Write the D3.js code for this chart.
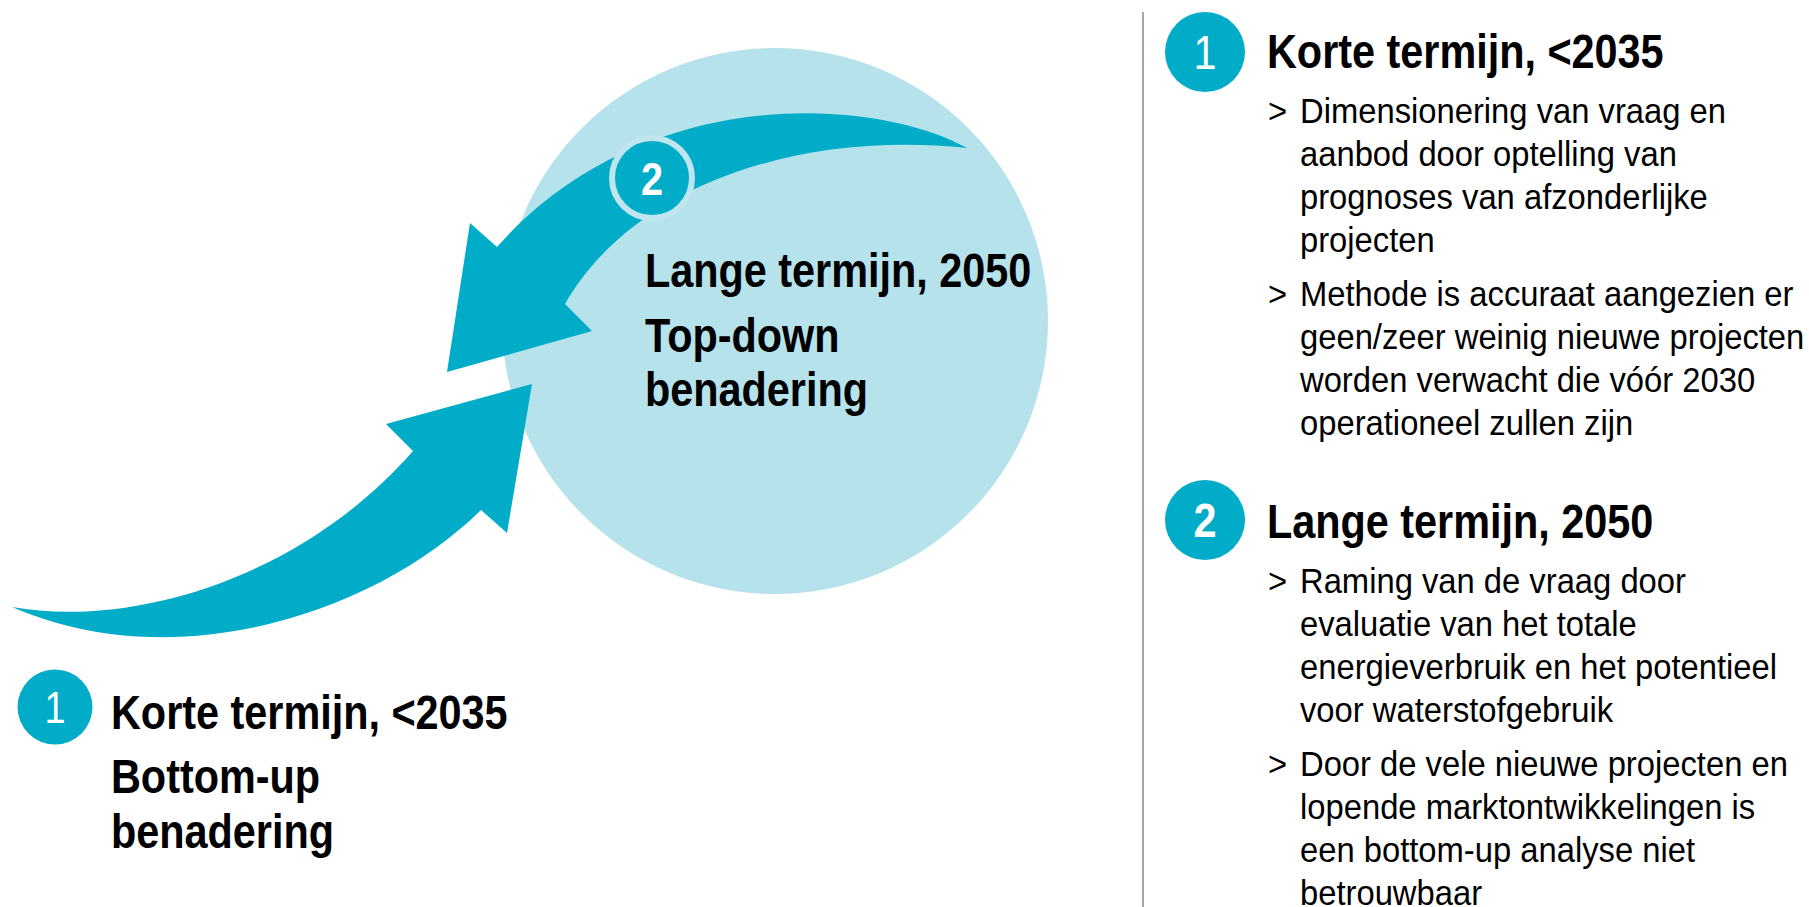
<!DOCTYPE html>
<html>
<head>
<meta charset="utf-8">
<script src="https://cdn.jsdelivr.net/npm/d3@7"></script>
<style>
  body { margin: 0; background: #fff; }
  text { font-family: "Liberation Sans", Arial, sans-serif; }
</style>
</head>
<body>
<svg width="1809" height="907"></svg>
<script>
// teksten van de figuur
var headings = ["Korte termijn, <2035", "Lange termijn, 2050"];
var badgeNums = ["1", "2"];
var bulletsShort = [
    ["Dimensionering van vraag en", "aanbod door optelling van", "prognoses van afzonderlijke", "projecten"],
    ["Methode is accuraat aangezien er", "geen/zeer weinig nieuwe projecten", "worden verwacht die vóór 2030", "operationeel zullen zijn"]
];
var bulletsLong = [
    ["Raming van de vraag door", "evaluatie van het totale", "energieverbruik en het potentieel", "voor waterstofgebruik"],
    ["Door de vele nieuwe projecten en", "lopende marktontwikkelingen is", "een bottom-up analyse niet", "betrouwbaar"]
];
var centerLabel = ["Lange termijn, 2050", "Top-down", "benadering"];
var leftLabel = ["Korte termijn, <2035", "Bottom-up", "benadering"];

var teal = "#00acc8",
    light = "#b6e2eb",
    boldX = 0.862,   // smalle letter nabootsen (geen Arial Narrow beschikbaar)
    bodyX = 0.91;

var svg = d3.select("svg");

// tekst met horizontale versmalling
function narrow(sel, x, y, sx) {
    return sel.append("text")
        .attr("transform", "translate(" + x + "," + y + ") scale(" + sx + ",1)");
}

// grote lichte cirkel
svg.append("circle")
    .attr("cx", 775).attr("cy", 321).attr("r", 273)
    .attr("fill", light);

// bovenste pijl (lange termijn) naar links-onder
var p = d3.path();
p.moveTo(967, 148);
p.bezierCurveTo(870, 95, 640, 85, 497, 247);
p.lineTo(470, 223);
p.lineTo(447, 372);
p.lineTo(592, 331);
p.lineTo(565, 304);
p.bezierCurveTo(630, 190, 790, 130, 967, 148);
p.closePath();
svg.append("path").attr("d", p.toString()).attr("fill", teal);

// onderste pijl (korte termijn) naar rechts-boven
var q = d3.path();
q.moveTo(12, 607);
q.bezierCurveTo(130, 628, 300, 580, 413, 451);
q.lineTo(386, 424);
q.lineTo(532, 384);
q.lineTo(507, 533);
q.lineTo(481, 510);
q.bezierCurveTo(380, 610, 180, 680, 12, 607);
q.closePath();
svg.append("path").attr("d", q.toString()).attr("fill", teal);

// genummerde bolletjes
function badge(cx, cy, r, num, size, border) {
    var g = svg.append("g");
    g.append("circle")
        .attr("cx", cx).attr("cy", cy).attr("r", r)
        .attr("fill", teal)
        .attr("stroke", border ? "#bfe6ee" : "none")
        .attr("stroke-width", border ? 6 : 0);
    narrow(g, cx, cy + size * 0.36, boldX)
        .attr("text-anchor", "middle")
        .attr("fill", "#fff")
        .attr("font-size", size)
        .attr("font-weight", num == "1" ? "normal" : "bold")
        .text(num);
}
badge(652, 178, 40, badgeNums[1], 46, true);
badge(55, 707, 37.5, badgeNums[0], 44, false);
badge(1205, 52, 40, badgeNums[0], 48, false);
badge(1205, 520, 40, badgeNums[1], 48, false);

// labels links en midden
function label(lines, x, ys) {
    var g = svg.append("g");
    lines.forEach(function (d, i) {
        narrow(g, x, ys[i], boldX)
            .attr("font-size", 48)
            .attr("font-weight", "bold")
            .attr("fill", "#000")
            .text(d);
    });
}
label(centerLabel, 645, [287, 352, 406]);
label(leftLabel, 111, [729, 793, 848]);

// scheidingslijn
svg.append("line")
    .attr("x1", 1143).attr("x2", 1143)
    .attr("y1", 12).attr("y2", 907)
    .attr("stroke", "#a6a6a6").attr("stroke-width", 2);

// rechterkolom
var lineH = 43, gap = 11;
function section(title, bullets, top) {
    narrow(svg, 1267, top, boldX)
        .attr("font-size", 48).attr("font-weight", "bold")
        .text(title);
    var y = top + 55;
    bullets.forEach(function (b) {
        narrow(svg, 1268, y, bodyX)
            .attr("font-size", 36)
            .text(">");
        b.forEach(function (line, i) {
            narrow(svg, 1300, y + i * lineH, bodyX)
                .attr("font-size", 36)
                .text(line);
        });
        y += b.length * lineH + gap;
    });
}
section(headings[0], bulletsShort, 68);
section(headings[1], bulletsLong, 538);
</script>
</body>
</html>
